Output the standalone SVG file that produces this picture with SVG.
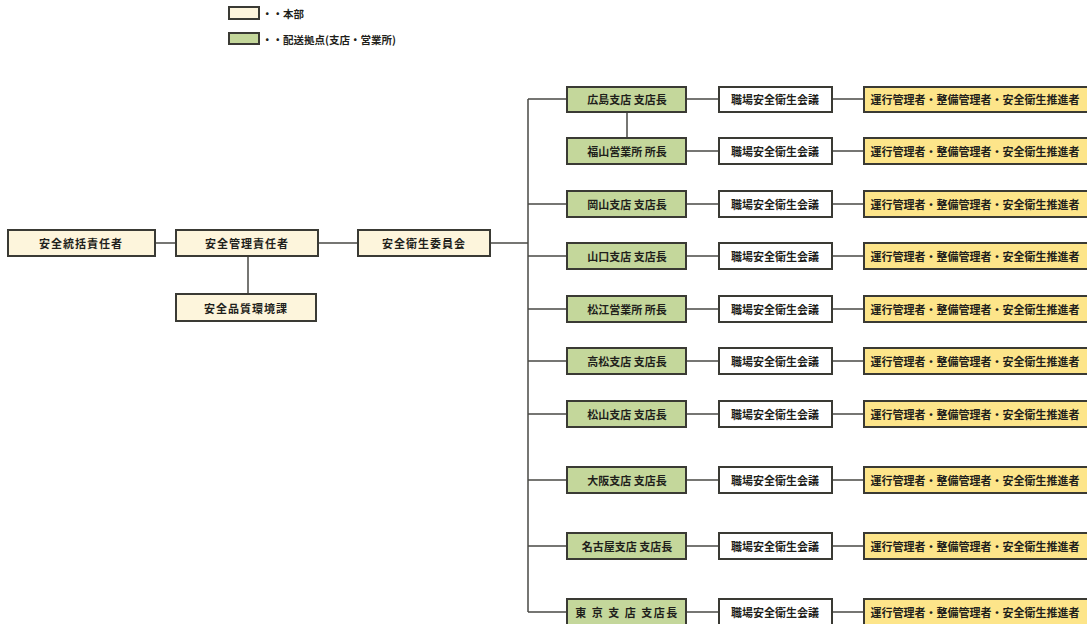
<svg xmlns="http://www.w3.org/2000/svg" width="1087" height="624" viewBox="0 0 1087 624">
<style>
.hq{fill:#fdf5dc;stroke:#3a3a34;stroke-width:2}
.br{fill:#c4d79b;stroke:#3a3a34;stroke-width:2}
.mt{fill:#ffffff;stroke:#3a3a34;stroke-width:2}
.st{fill:#fde58a;stroke:#3a3a34;stroke-width:2}
text{font-family:"Noto Sans CJK JP","Noto Sans",sans-serif;font-weight:bold;font-size:11px;fill:#1f1f1b;text-anchor:middle;dominant-baseline:central}
.lg{font-size:10.5px;text-anchor:start}
.cn{stroke:#4a4a46;stroke-width:1.5;fill:none}
</style>
<g id="legend">
<rect class="hq" x="229" y="7" width="30" height="12"/>
<text class="lg" x="262" y="13">・・本部</text>
<rect class="br" x="229" y="33" width="30" height="11"/>
<text class="lg" x="262" y="39">・・配送拠点(支店・営業所)</text>
</g>
<g id="connectors">
<path class="cn" d="M155 243H176M318 243H358M248 256V294M490 243H528M528 99V612"/>
<path class="cn" d="M528 99H567M627 112V138M528 204H567M528 256H567M528 309H567M528 361H567M528 414H567M528 480H567M528 546H567M528 612H567"/>
<path class="cn" d="M686 99H719M686 151H719M686 204H719M686 256H719M686 309H719M686 361H719M686 414H719M686 480H719M686 546H719M686 612H719"/>
<path class="cn" d="M832 99H864M832 151H864M832 204H864M832 256H864M832 309H864M832 361H864M832 414H864M832 480H864M832 546H864M832 612H864"/>
</g>
<g id="n-tokatsu"><rect class="hq" x="8" y="230" width="147" height="26"/><text x="81" y="243" letter-spacing="1">安全統括責任者</text></g>
<g id="n-kanri"><rect class="hq" x="176" y="230" width="142" height="26"/><text x="247" y="243" letter-spacing="1">安全管理責任者</text></g>
<g id="n-hinshitsu"><rect class="hq" x="176" y="294" width="140" height="27"/><text x="246" y="308" letter-spacing="1">安全品質環境課</text></g>
<g id="n-iinkai"><rect class="hq" x="358" y="230" width="132" height="26"/><text x="424" y="243" letter-spacing="1">安全衛生委員会</text></g>

<g id="b-hiroshima"><rect class="br" x="567" y="87" width="119" height="25"/><text x="627" y="99">広島支店 支店長</text></g>
<g id="b-fukuyama"><rect class="br" x="567" y="138" width="119" height="26"/><text x="627" y="151">福山営業所  所長</text></g>
<g id="b-okayama"><rect class="br" x="567" y="191" width="119" height="26"/><text x="627" y="204">岡山支店  支店長</text></g>
<g id="b-yamaguchi"><rect class="br" x="567" y="243" width="119" height="26"/><text x="627" y="256">山口支店  支店長</text></g>
<g id="b-matsue"><rect class="br" x="567" y="296" width="119" height="26"/><text x="627" y="309">松江営業所  所長</text></g>
<g id="b-takamatsu"><rect class="br" x="567" y="348" width="119" height="26"/><text x="627" y="361">高松支店  支店長</text></g>
<g id="b-matsuyama"><rect class="br" x="567" y="401" width="119" height="26"/><text x="627" y="414">松山支店  支店長</text></g>
<g id="b-osaka"><rect class="br" x="567" y="467" width="119" height="26"/><text x="627" y="480">大阪支店  支店長</text></g>
<g id="b-nagoya"><rect class="br" x="567" y="533" width="119" height="26"/><text x="627" y="546">名古屋支店  支店長</text></g>
<g id="b-tokyo"><rect class="br" x="567" y="599" width="119" height="26"/><text x="627" y="612" letter-spacing="1.5">東 京 支 店 支店長</text></g>

<g id="m-1"><rect class="mt" x="719" y="87" width="113" height="25"/><text x="775" y="99">職場安全衛生会議</text></g>
<g id="m-2"><rect class="mt" x="719" y="138" width="113" height="26"/><text x="775" y="151">職場安全衛生会議</text></g>
<g id="m-3"><rect class="mt" x="719" y="191" width="113" height="26"/><text x="775" y="204">職場安全衛生会議</text></g>
<g id="m-4"><rect class="mt" x="719" y="243" width="113" height="26"/><text x="775" y="256">職場安全衛生会議</text></g>
<g id="m-5"><rect class="mt" x="719" y="296" width="113" height="26"/><text x="775" y="309">職場安全衛生会議</text></g>
<g id="m-6"><rect class="mt" x="719" y="348" width="113" height="26"/><text x="775" y="361">職場安全衛生会議</text></g>
<g id="m-7"><rect class="mt" x="719" y="401" width="113" height="26"/><text x="775" y="414">職場安全衛生会議</text></g>
<g id="m-8"><rect class="mt" x="719" y="467" width="113" height="26"/><text x="775" y="480">職場安全衛生会議</text></g>
<g id="m-9"><rect class="mt" x="719" y="533" width="113" height="26"/><text x="775" y="546">職場安全衛生会議</text></g>
<g id="m-10"><rect class="mt" x="719" y="599" width="113" height="26"/><text x="775" y="612">職場安全衛生会議</text></g>

<g id="s-1"><rect class="st" x="864" y="87" width="230" height="25"/><text x="975" y="99">運行管理者・整備管理者・安全衛生推進者</text></g>
<g id="s-2"><rect class="st" x="864" y="138" width="230" height="26"/><text x="975" y="151">運行管理者・整備管理者・安全衛生推進者</text></g>
<g id="s-3"><rect class="st" x="864" y="191" width="230" height="26"/><text x="975" y="204">運行管理者・整備管理者・安全衛生推進者</text></g>
<g id="s-4"><rect class="st" x="864" y="243" width="230" height="26"/><text x="975" y="256">運行管理者・整備管理者・安全衛生推進者</text></g>
<g id="s-5"><rect class="st" x="864" y="296" width="230" height="26"/><text x="975" y="309">運行管理者・整備管理者・安全衛生推進者</text></g>
<g id="s-6"><rect class="st" x="864" y="348" width="230" height="26"/><text x="975" y="361">運行管理者・整備管理者・安全衛生推進者</text></g>
<g id="s-7"><rect class="st" x="864" y="401" width="230" height="26"/><text x="975" y="414">運行管理者・整備管理者・安全衛生推進者</text></g>
<g id="s-8"><rect class="st" x="864" y="467" width="230" height="26"/><text x="975" y="480">運行管理者・整備管理者・安全衛生推進者</text></g>
<g id="s-9"><rect class="st" x="864" y="533" width="230" height="26"/><text x="975" y="546">運行管理者・整備管理者・安全衛生推進者</text></g>
<g id="s-10"><rect class="st" x="864" y="599" width="230" height="26"/><text x="975" y="612">運行管理者・整備管理者・安全衛生推進者</text></g>
</svg>
